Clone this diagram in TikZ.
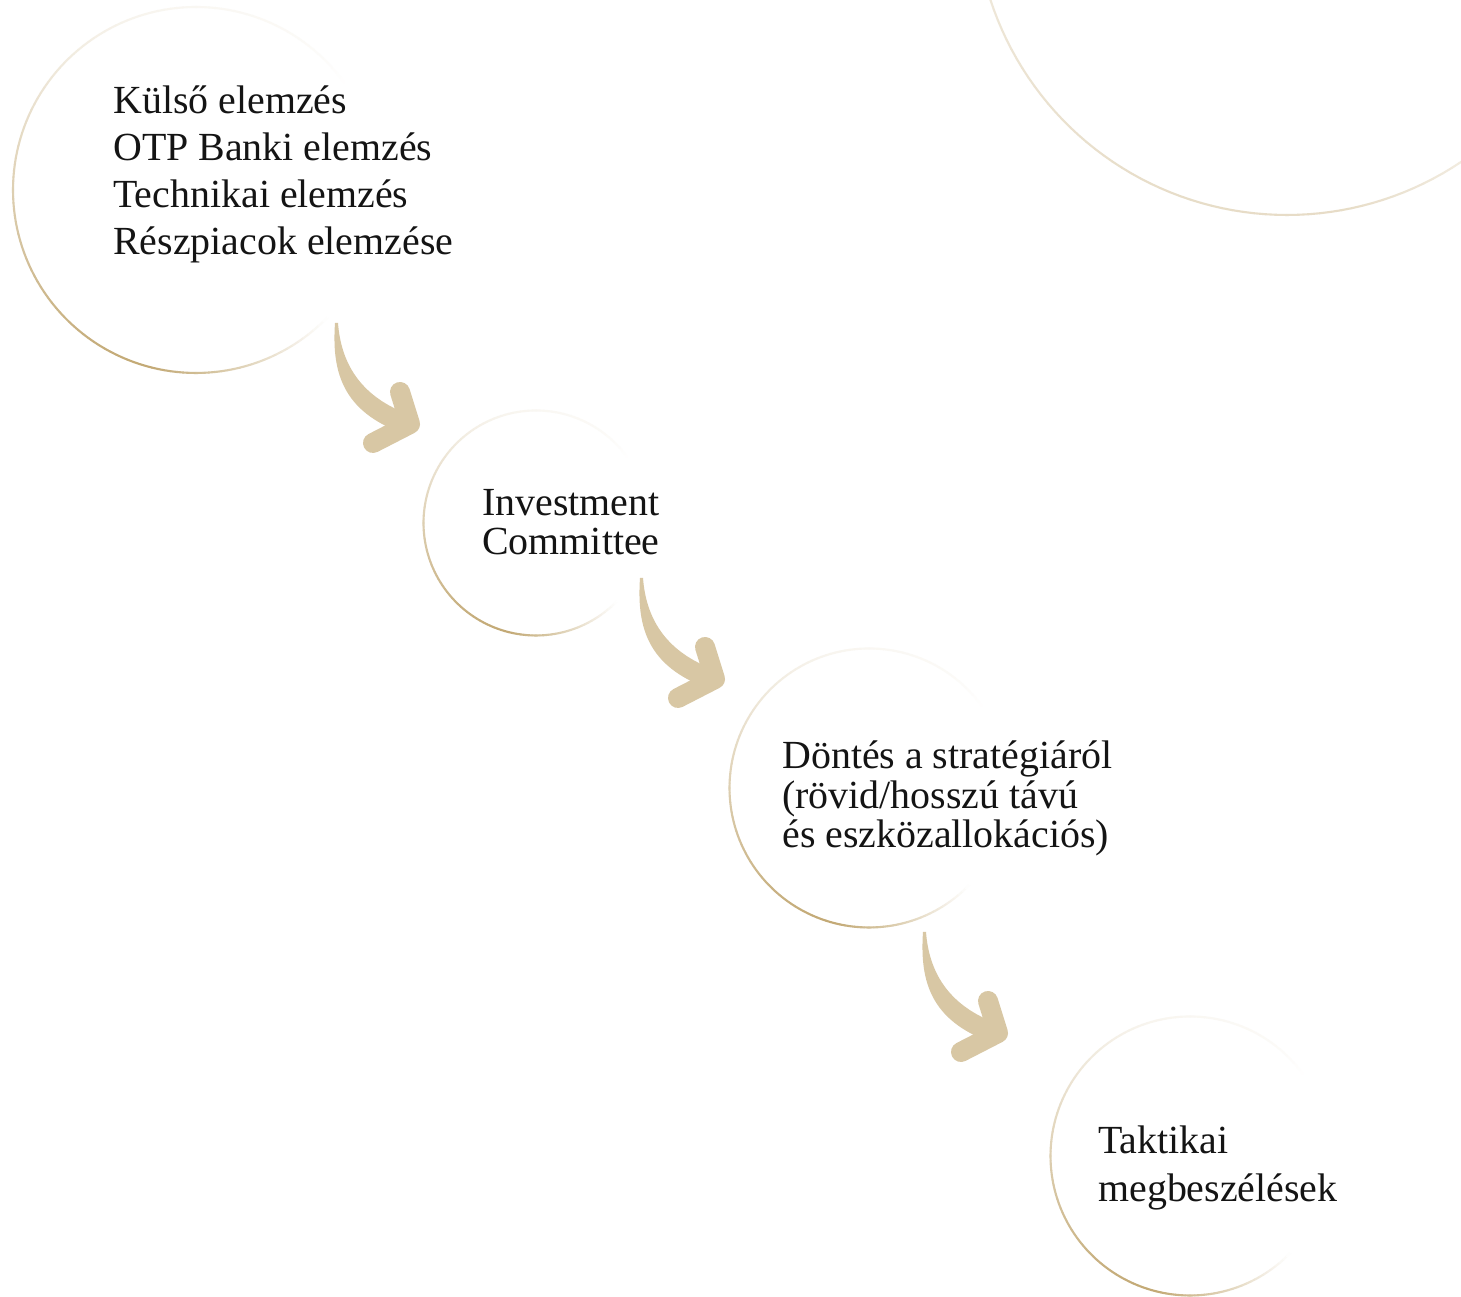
\documentclass[tikz,border=0pt]{standalone}
\usepackage{fontspec}
\setmainfont{Liberation Serif}
\definecolor{ringgold}{RGB}{194,168,115}
\definecolor{arrowtan}{RGB}{216,199,164}
\tikzset{
  txt/.style={anchor=base west, align=left, inner sep=0pt, text=black!92},
  hub/.style={circle, inner sep=0pt, draw=none},
  swoosh/.pic={
    \fill[arrowtan] (0,0) .. controls (-3,-45) and (5,-85) .. (62,-108) -- (70,-90) .. controls (25,-72) and (6,-40) .. (3,0) -- cycle;
    \draw[arrowtan, line width=0.4cm, line cap=round, line join=round] (65,-69) -- (75,-101) -- (38,-120);
  }
}
% #1 cx, #2 cy, #3 r, #4 strength, #5 fade centre angle
\newcommand{\goldring}[5]{%
  \foreach \a in {0,2,...,358}{%
    \pgfmathsetmacro{\dd}{180-abs(mod(\a-#5+720,360)-180)}%
    \pgfmathsetmacro{\ff}{min(1,max(0,(\dd-40)/60))}%
    \pgfmathsetmacro{\bb}{0.55-0.45*sin(\a+1)}%
    \pgfmathsetmacro{\pp}{100*#4*\ff*\bb}%
    \draw[ringgold!\pp!white, line width=1.2pt, line cap=round]
      ({#1+#3*cos(\a)},{#2+#3*sin(\a)}) -- ({#1+#3*cos(\a+2)},{#2+#3*sin(\a+2)});
  }%
}
\begin{document}
\begin{tikzpicture}[x=0.02cm, y=0.02cm]
\useasboundingbox (0,0) rectangle (1461,1297);
\fill[white] (0,0) rectangle (1461,1297);
\clip (0,0) rectangle (1461,1297);

% circles
\node[hub, minimum size=12.48cm] (c0) at (1287,1394) {};
\goldring{1287}{1394}{312}{0.4}{20}
\node[hub, minimum size=7.32cm] (c1) at (196,1107) {};
\goldring{196}{1107}{183}{1}{355}
\node[hub, minimum size=4.5cm] (c2) at (536,774) {};
\goldring{536}{774}{112.5}{1}{355}
\node[hub, minimum size=5.58cm] (c3) at (869,509) {};
\goldring{869}{509}{139.5}{1}{355}
\node[hub, minimum size=5.58cm] (c4) at (1190,141) {};
\goldring{1190}{141}{139.5}{1}{355}

% arrows
\coordinate (a1) at (335,974);
\coordinate (a2) at (640,719);
\coordinate (a3) at (923,365);
\pic at (a1) {swoosh};
\pic at (a2) {swoosh};
\pic at (a3) {swoosh};

% texts (base anchor = last line's baseline)
\node[txt, font=\fontsize{22.7}{26.9}\selectfont] (t1) at (113,1042)
  {Külső elemzés\\OTP Banki elemzés\\Technikai elemzés\\Részpiacok elemzése};
\node[txt, font=\fontsize{22.7}{22.6}\selectfont] (t2) at (482,742)
  {Investment\\Committee};
\node[txt, font=\fontsize{22.7}{22.7}\selectfont] (t3) at (782,449)
  {Döntés a stratégiáról\\(rövid/hosszú távú\\és eszközallokációs)};
\node[txt, font=\fontsize{22.7}{27.6}\selectfont] (t4) at (1098,95)
  {Taktikai\\megbeszélések};
\end{tikzpicture}
\end{document}
